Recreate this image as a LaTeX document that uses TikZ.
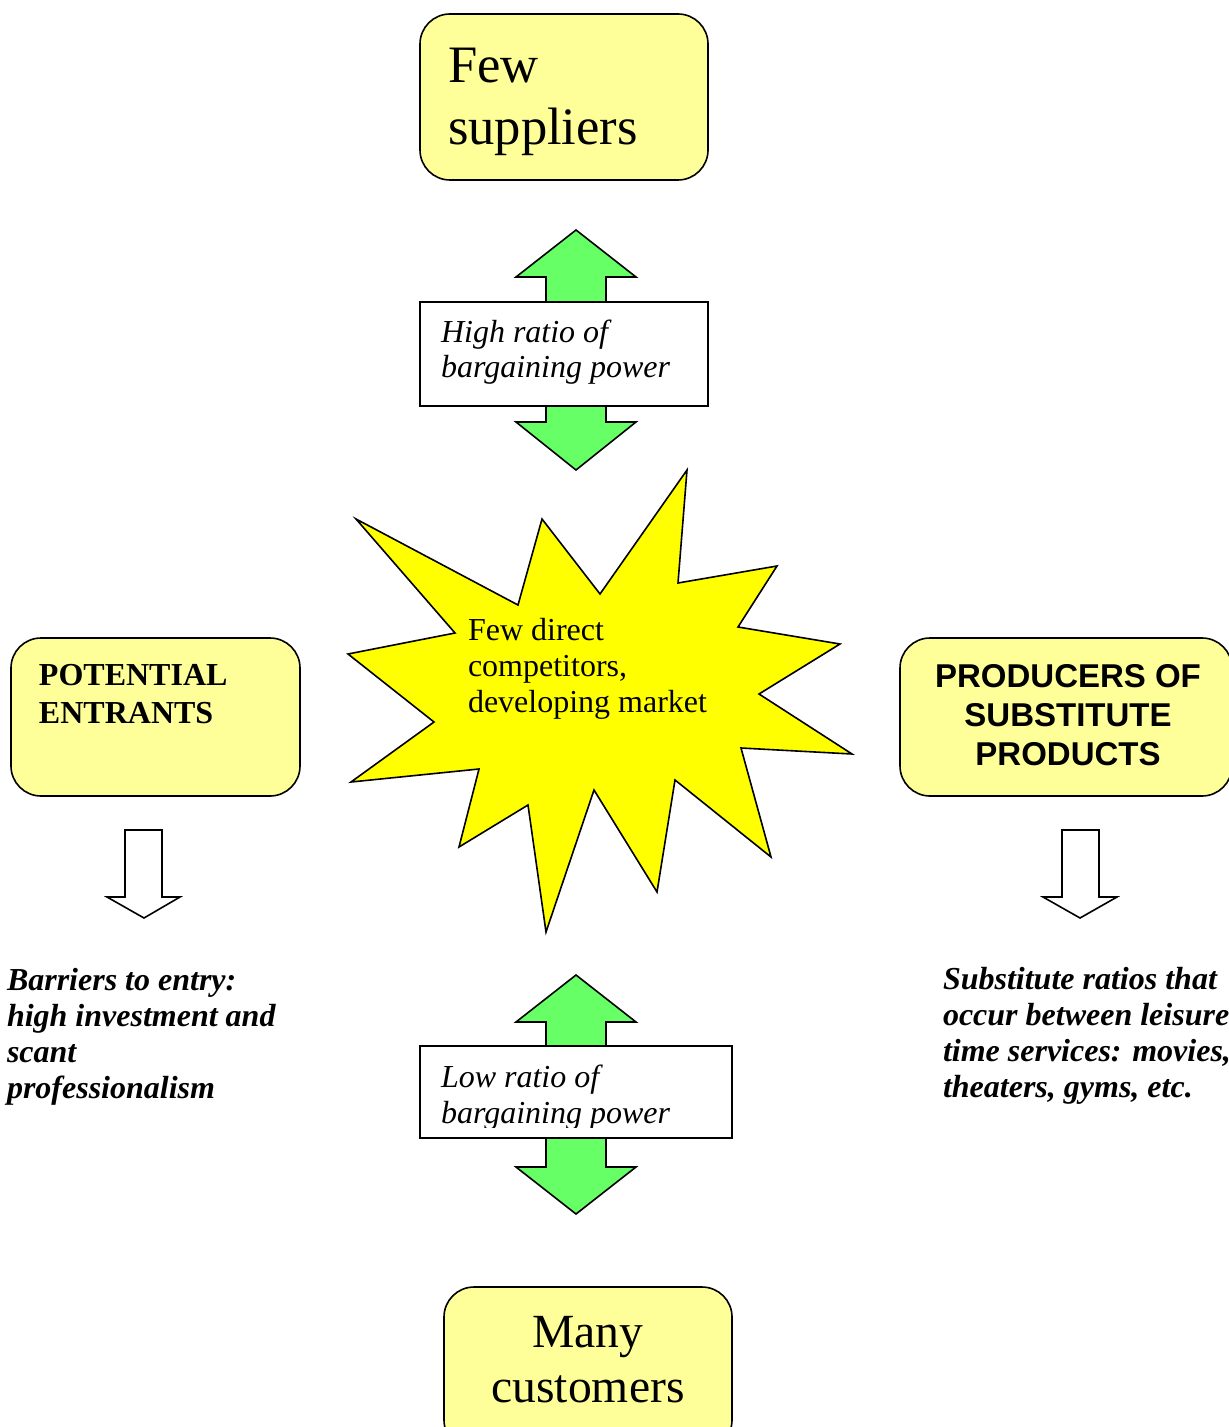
\documentclass[tikz,border=0pt]{standalone}
\usepackage{fontspec}
\setmainfont{Liberation Serif}
\newfontfamily\arialfont{Liberation Sans}
\definecolor{forceyellow}{HTML}{FFFF99}
\definecolor{staryellow}{HTML}{FFFF00}
\definecolor{arrowgreen}{HTML}{66FF66}
\begin{document}
\begin{tikzpicture}[x=0.5pt,y=-0.5pt,
  every node/.style={inner sep=0pt, outer sep=0pt},
  forcebox/.style={draw=black, line width=0.8pt, fill=forceyellow, rounded corners=15pt},
  labelbox/.style={draw=black, line width=0.8pt, fill=white},
  greenarrow/.style={draw=black, line width=0.8pt, fill=arrowgreen, line join=miter},
  hollowarrow/.style={draw=black, line width=0.8pt, fill=white, line join=miter},
  burst/.style={draw=black, line width=0.8pt, fill=staryellow, line join=miter},
  plain/.style={align=left, anchor=base west},
]
\useasboundingbox (0,0) rectangle (1229,1427);
\clip (0,0) rectangle (1229,1427);

% central burst (text nodes are placed by the baseline of their last line)
\draw[burst] (356,519) -- (518,605) -- (542,519) -- (600,594) -- (687,470)
  -- (678,583) -- (777,566) -- (738,627) -- (840,644) -- (759,694)
  -- (852,754) -- (741,748) -- (771,857) -- (675,780) -- (657,892)
  -- (594,790) -- (546,932) -- (528,805) -- (459,847) -- (479,769)
  -- (351,782) -- (434,722) -- (348,654) -- (455,633) -- cycle;
\node[plain, font=\fontsize{16}{18}\selectfont] (mkt) at (468,712)
  {Few direct\\competitors,\\developing market};

% suppliers
\node[forcebox, minimum width=144pt, minimum height=83pt] (sup) at (564,97) {};
\node[plain, font=\fontsize{26.3}{31}\selectfont] (suptxt) at (448,145) {Few\\suppliers};

% double arrow between suppliers and market
\draw[greenarrow] (576,230) -- (636,277) -- (606,277) -- (606,422) -- (636,422)
  -- (576,470) -- (516,422) -- (546,422) -- (546,277) -- (516,277) -- cycle;
\node[labelbox, minimum width=144pt, minimum height=52pt] (hi) at (564,354) {};
\node[plain, font=\fontsize{16}{17.5}\selectfont\itshape] (hitxt) at (441,378)
  {High ratio of\\bargaining power};

% potential entrants
\node[forcebox, minimum width=144.5pt, minimum height=79pt] (ent) at (155.5,717) {};
\node[plain, font=\fontsize{16}{19}\selectfont\bfseries] (enttxt) at (39,723)
  {POTENTIAL\\ENTRANTS};
\draw[hollowarrow] (125,830) -- (162,830) -- (162,897) -- (180,897) -- (144,918)
  -- (107,897) -- (125,897) -- cycle;
\node[plain, font=\fontsize{16}{18}\selectfont\bfseries\itshape] (bar) at (7,1098)
  {Barriers to entry:\\high investment and\\scant\\professionalism};

% substitutes
\node[forcebox, minimum width=166pt, minimum height=79pt] (sub) at (1066,717) {};
\node[align=center, anchor=base, font=\fontsize{16.5}{19.5}\selectfont\arialfont\bfseries]
  (subtxt) at (1068,765) {PRODUCERS OF\\SUBSTITUTE\\PRODUCTS};
\draw[hollowarrow] (1062,830) -- (1099,830) -- (1099,897) -- (1117,897) -- (1080,918)
  -- (1043,897) -- (1062,897) -- cycle;
\node[plain, font=\fontsize{16}{18}\selectfont\bfseries\itshape] (subs) at (943,1097)
  {Substitute ratios that\\occur between leisure\\time services: movies,\\theaters, gyms, etc.};

% double arrow between market and customers
\draw[greenarrow] (576,975) -- (636,1022) -- (606,1022) -- (606,1167) -- (636,1167)
  -- (576,1214) -- (516,1167) -- (546,1167) -- (546,1022) -- (516,1022) -- cycle;
\node[labelbox, minimum width=156pt, minimum height=46pt] (lo) at (576,1092) {};
\begin{scope}
  \clip (420,1046) rectangle (732,1127);
  \node[plain, font=\fontsize{16}{18}\selectfont\itshape] (lotxt) at (441,1123)
    {Low ratio of\\bargaining power};
\end{scope}

% customers
\node[forcebox, minimum width=144pt, minimum height=81.5pt] (cus) at (588,1368.5) {};
\node[align=center, anchor=base, font=\fontsize{23.8}{27.5}\selectfont] (custxt)
  at (588,1402) {Many\\customers};
\end{tikzpicture}
\end{document}
